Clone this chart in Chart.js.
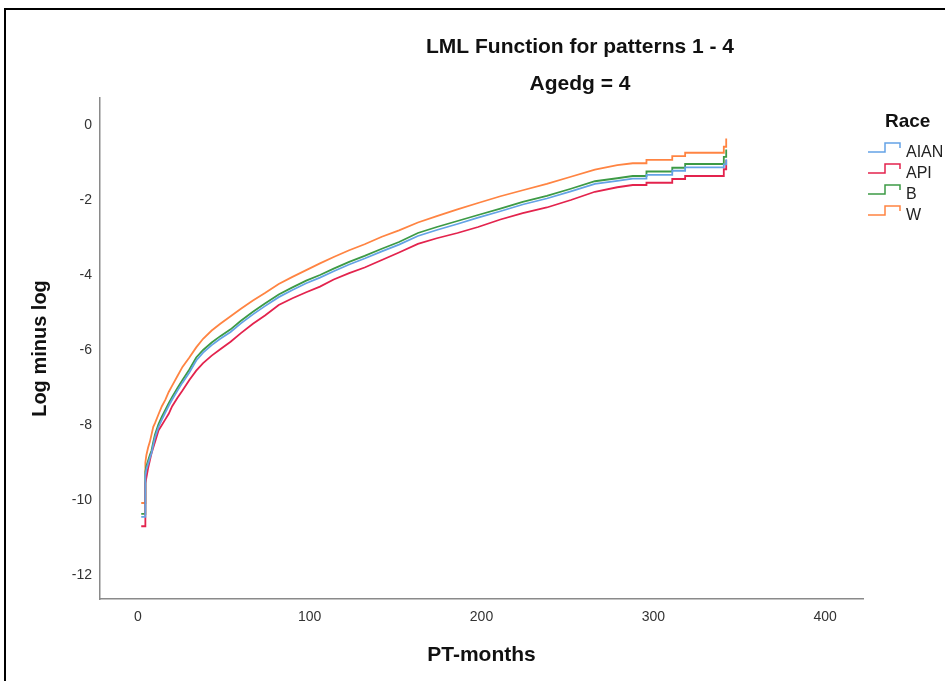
<!DOCTYPE html>
<html>
<head>
<meta charset="utf-8">
<title>LML Function</title>
<script src="https://cdn.jsdelivr.net/npm/chart.js@4.4.1/dist/chart.umd.min.js"></script>
<style>
    body { margin: 0; background: #fff; overflow: hidden; }
    #wrap { position: relative; width: 945px; height: 681px; }
    #frame {
        position: absolute; left: 4px; top: 8px;
        width: 960px; height: 700px;
        border: 2.5px solid #000; pointer-events: none;
    }
</style>
</head>
<body>
<div id="wrap">
    <canvas id="lml" width="945" height="681"></canvas>
    <div id="frame"></div>
</div>
<script>
// Event times (months); repeated times mark the vertical steps
const months = [2, 4.4, 4.4, 5, 6, 7, 8, 9, 10, 12, 14, 16, 18, 20, 23, 26, 30, 34, 38, 43, 48, 54, 60, 67, 74, 82, 90, 98, 106, 114, 123, 132, 142, 152, 163, 174, 186, 198, 211, 224, 238, 252, 266, 279, 288, 296, 296, 311, 311, 318.5, 318.5, 341, 341, 342.4, 342.4];

const raceLabels = ['AIAN', 'API', 'B', 'W'];
const raceColors = ['#64a3e6', '#e3234d', '#3d9a45', '#ff8442'];

// log(-log(S)) per race
const aian = [-10.45, -10.45, -9.35, -9.18, -9.03, -8.88, -8.75, -8.53, -8.33, -8.06, -7.86, -7.67, -7.49, -7.32, -7.09, -6.87, -6.6, -6.28, -6.07, -5.87, -5.7, -5.52, -5.29, -5.05, -4.83, -4.59, -4.4, -4.22, -4.07, -3.9, -3.72, -3.56, -3.37, -3.19, -2.96, -2.8, -2.64, -2.47, -2.3, -2.12, -1.96, -1.77, -1.57, -1.49, -1.43, -1.43, -1.33, -1.33, -1.22, -1.22, -1.13, -1.13, -1.05, -1.05, -0.91];
const api = [-10.7, -10.7, -9.55, -9.4, -9.15, -8.95, -8.75, -8.6, -8.45, -8.15, -8.0, -7.85, -7.7, -7.5, -7.28, -7.08, -6.8, -6.55, -6.35, -6.15, -5.98, -5.78, -5.55, -5.3, -5.08, -4.8, -4.62, -4.46, -4.31, -4.12, -3.95, -3.8, -3.6, -3.4, -3.17, -3.02, -2.88, -2.72, -2.52, -2.35, -2.2, -2.0, -1.78, -1.66, -1.6, -1.6, -1.54, -1.54, -1.44, -1.44, -1.36, -1.36, -1.18, -1.18, -0.93];
const b = [-10.37, -10.37, -9.25, -9.1, -8.95, -8.8, -8.68, -8.45, -8.25, -7.98, -7.78, -7.6, -7.42, -7.25, -7.02, -6.8, -6.52, -6.2, -6.0, -5.8, -5.63, -5.45, -5.22, -4.98, -4.76, -4.52, -4.33, -4.15, -4.0, -3.83, -3.65, -3.49, -3.3, -3.12, -2.88, -2.72, -2.56, -2.4, -2.23, -2.05, -1.89, -1.7, -1.5, -1.42, -1.36, -1.36, -1.24, -1.24, -1.14, -1.14, -1.04, -1.04, -0.85, -0.85, -0.65];
const w = [-10.08, -10.08, -9.0, -8.8, -8.6, -8.45, -8.25, -8.05, -7.95, -7.72, -7.5, -7.33, -7.12, -6.95, -6.7, -6.45, -6.2, -5.93, -5.7, -5.48, -5.3, -5.1, -4.9, -4.68, -4.48, -4.24, -4.05, -3.87, -3.69, -3.52, -3.34, -3.18, -2.98, -2.81, -2.6, -2.43, -2.25, -2.08, -1.9, -1.74, -1.57, -1.38, -1.19, -1.07, -1.02, -1.02, -0.93, -0.93, -0.83, -0.83, -0.74, -0.74, -0.58, -0.58, -0.36];

const xTicks = [0, 100, 200, 300, 400];
const yTicks = [0, -2, -4, -6, -8, -10, -12];

const FONT = 'Arial, "Liberation Sans", sans-serif';
const series = [aian, api, b, w];

const datasets = series.map((vals, i) => ({
    label: raceLabels[i],
    data: months.map((m, j) => ({ x: m, y: vals[j] })),
    borderColor: raceColors[i],
    backgroundColor: raceColors[i],
    borderWidth: 1.8,
    pointRadius: 0,
    tension: 0,
    fill: false
}));

// titles and the step-icon legend drawn straight onto the canvas
const headings = {
    id: 'headings',
    afterDraw(chart) {
        const ctx = chart.ctx;
        ctx.save();
        ctx.fillStyle = '#111';
        ctx.textAlign = 'center';
        ctx.textBaseline = 'alphabetic';
        ctx.font = 'bold 21px ' + FONT;
        ctx.fillText('LML Function for patterns 1 - 4', 580, 53);
        ctx.fillText('Agedg = 4', 580, 90);

        ctx.font = 'bold 19px ' + FONT;
        ctx.textAlign = 'left';
        ctx.fillText('Race', 885, 127);

        ctx.font = '16px ' + FONT;
        chart.data.datasets.forEach((ds, i) => {
            const base = 157 + i * 21;
            ctx.strokeStyle = ds.borderColor;
            ctx.lineWidth = 1.5;
            ctx.beginPath();
            ctx.moveTo(868, base - 5);
            ctx.lineTo(885, base - 5);
            ctx.lineTo(885, base - 14);
            ctx.lineTo(900, base - 14);
            ctx.lineTo(900, base - 9);
            ctx.stroke();
            ctx.fillStyle = '#222';
            ctx.fillText(ds.label, 906, base);
        });
        ctx.restore();
    }
};

new Chart(document.getElementById('lml'), {
    type: 'line',
    data: { datasets: datasets },
    plugins: [headings],
    options: {
        responsive: false,
        animation: false,
        devicePixelRatio: 1,
        layout: { padding: { top: 98, right: 82, left: 0, bottom: 0 } },
        plugins: {
            legend: { display: false },
            title: { display: false },
            tooltip: { enabled: false }
        },
        scales: {
            x: {
                type: 'linear',
                min: -22,
                max: 422,
                afterFit: (scale) => { scale.height = 82; },
                afterBuildTicks: (scale) => { scale.ticks = xTicks.map(v => ({ value: v })); },
                grid: { display: false, drawTicks: false },
                border: { display: true, color: '#8a8a8a', width: 1.5 },
                ticks: { color: '#333', padding: 10, font: { family: FONT, size: 14 } },
                title: {
                    display: true,
                    text: 'PT-months',
                    color: '#111',
                    font: { family: FONT, size: 21, weight: 'bold' },
                    padding: { top: 0, bottom: 13 }
                }
            },
            y: {
                type: 'linear',
                min: -12.64,
                max: 0.72,
                afterFit: (scale) => { scale.width = 100; },
                afterBuildTicks: (scale) => { scale.ticks = yTicks.map(v => ({ value: v })); },
                grid: { display: false, drawTicks: false },
                border: { display: true, color: '#8a8a8a', width: 1.5 },
                ticks: { color: '#333', padding: 8, font: { family: FONT, size: 14 } },
                title: {
                    display: true,
                    text: 'Log minus log',
                    color: '#111',
                    font: { family: FONT, size: 20, weight: 'bold' },
                    padding: { top: 28, bottom: 0 }
                }
            }
        }
    }
});
</script>
</body>
</html>
